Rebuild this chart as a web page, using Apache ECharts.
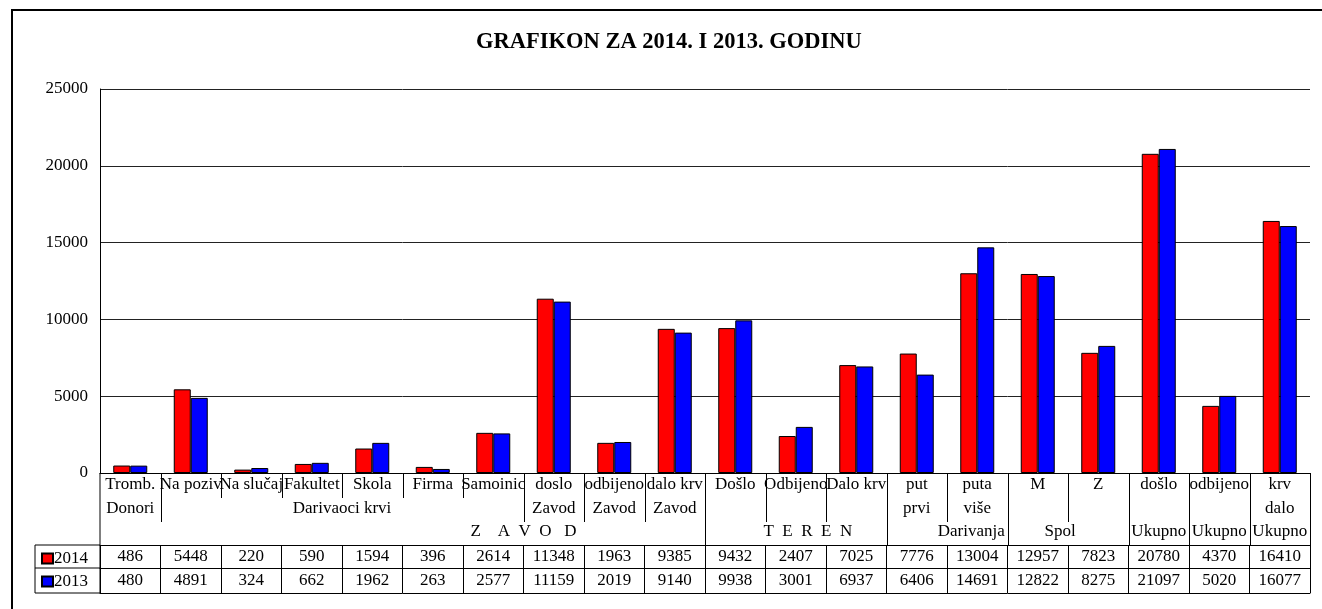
<!DOCTYPE html>
<html>
<head>
<meta charset="utf-8">
<script src="https://cdn.jsdelivr.net/npm/echarts@6/dist/echarts.min.js"></script>
<style>
html,body{margin:0;padding:0;background:#fff;}
#chart{width:1322px;height:609px;}
</style>
</head>
<body>
<div id="chart"></div>
<script>
// ---- data ----
const titleText = 'GRAFIKON ZA 2014. I 2013. GODINU';
const categories = ['Tromb.','Na poziv','Na slučaj','Fakultet','Skola','Firma','Samoinic','doslo','odbijeno','dalo krv','Došlo','Odbijeno','Dalo krv','put','puta','M','Z','došlo','odbijeno','krv'];
const labelLine2 = ['Donori','','','','','','','Zavod','Zavod','Zavod','','','','prvi','više','','','','','dalo'];
const labelLine3 = ['','','','','','','','','','','','','','','','','','Ukupno','Ukupno','Ukupno'];
const seriesNames = ['2014','2013'];
const values2014 = [486,5448,220,590,1594,396,2614,11348,1963,9385,9432,2407,7025,7776,13004,12957,7823,20780,4370,16410];
const values2013 = [480,4891,324,662,1962,263,2577,11159,2019,9140,9938,3001,6937,6406,14691,12822,8275,21097,5020,16077];
const groupTexts = ['Darivaoci krvi','Z    A  V  O   D','T  E  R  E  N','Darivanja','Spol'];
const groupAt = [4, 7, 11.7, 14.4, 15.87];
const groupRow = [2, 3, 3, 3, 3];
// separator depth at boundaries 1..20 (1 short, 2 medium, 3 full)
const sepLevel = [2,1,1,1,1,1,2,2,2,3,2,2,3,2,3,2,3,3,3,3];
const yTicks = {min:0, max:25000, interval:5000};

const FONT = 'Liberation Serif';
const chart = echarts.init(document.getElementById('chart'));

const txt = {fontFamily: FONT, fontSize: 17, color: '#000'};

chart.setOption({
  animation: false,
  backgroundColor: '#fff',
  title: {
    text: titleText, left: 471, top: 26,
    textStyle: {fontFamily: FONT, fontSize: 22.5, fontWeight: 'bold', color: '#000'}
  },
  legend: {
    orient: 'vertical', left: 41, top: 550, padding: 0, itemWidth: 11, itemHeight: 10, itemGap: 6,
    icon: 'rect', selectedMode: false,
    textStyle: Object.assign({lineHeight: 17, padding: [0,0,0,-4]}, txt),
    data: seriesNames
  },
  grid: {left: 100, right: 12, top: 89, bottom: 136, containLabel: false},
  yAxis: {
    type: 'value', min: yTicks.min, max: yTicks.max, interval: yTicks.interval,
    axisLine: {show: true, lineStyle: {color: '#000', width: 1}},
    axisTick: {show: false},
    axisLabel: Object.assign({margin: 12, formatter: v => String(v)}, txt),
    splitLine: {show: true, lineStyle: {color: '#222', width: 1}}
  },
  xAxis: [
    {
      type: 'category', data: categories, position: 'bottom',
      axisLine: {show: true, lineStyle: {color: '#000'}},
      axisTick: {show: false},
      axisLabel: Object.assign({interval: 0, margin: 0, lineHeight: 23.5, hideOverlap: false,
        formatter: (v, i) => categories[i] + '\n' + (labelLine2[i] || ' ') + '\n' + (labelLine3[i] || ' ')}, txt)
    },
    {
      type: 'category', data: categories, position: 'bottom', offset: 72,
      axisLine: {show: true, lineStyle: {color: '#000'}},
      axisTick: {show: true, length: 48, lineStyle: {color: '#000'}},
      axisLabel: Object.assign({interval: 0, margin: 0, lineHeight: 23, hideOverlap: false,
        formatter: (v, i) => String(values2014[i])}, txt)
    },
    {
      type: 'category', data: categories, position: 'bottom', offset: 95,
      axisLine: {show: true, lineStyle: {color: '#000'}},
      axisTick: {show: false},
      axisLabel: Object.assign({interval: 0, margin: 0, lineHeight: 25, hideOverlap: false,
        formatter: (v, i) => String(values2013[i])}, txt)
    },
    {
      type: 'category', data: categories, position: 'bottom', offset: 120,
      axisLine: {show: true, lineStyle: {color: '#000'}},
      axisTick: {show: false},
      axisLabel: {show: false}
    }
  ],
  series: [
    {
      name: seriesNames[0], type: 'bar', xAxisIndex: 0, data: values2014,
      barWidth: 17, barGap: '0%',
      itemStyle: {color: '#ff0000', borderColor: '#000', borderWidth: 1}
    },
    {
      name: seriesNames[1], type: 'bar', xAxisIndex: 0, data: values2013,
      barWidth: 17, barGap: '0%',
      itemStyle: {color: '#0000ff', borderColor: '#000', borderWidth: 1}
    }
  ]
});

// positions derived from axes
const c0 = chart.convertToPixel({xAxisIndex: 0}, 0);
const c1 = chart.convertToPixel({xAxisIndex: 0}, 1);
const band = c1 - c0;
const x0 = c0 - band / 2;
const yZero = chart.convertToPixel({yAxisIndex: 0}, 0);
const tableTop = yZero + 72, row2 = yZero + 95, tableBottom = yZero + 120;
const tableLeft = 35;
const sepLen = {1: 25, 2: 49, 3: 72};

const graphics = [];
const line = (xa, ya, xb, yb, w) => graphics.push({
  type: 'line', silent: true, z: 100,
  shape: {x1: xa, y1: ya, x2: xb, y2: yb},
  style: {stroke: '#000', lineWidth: w || 1}
});
// outer frame
graphics.push({type: 'rect', silent: true, z: 100,
  shape: {x: 12, y: 10, width: 1330, height: 620},
  style: {fill: 'none', stroke: '#000', lineWidth: 2}});
// left header cells
line(tableLeft, tableTop, x0, tableTop);
line(tableLeft, row2, x0, row2);
line(tableLeft, tableBottom, x0, tableBottom);
line(tableLeft, tableTop, tableLeft, tableBottom);
line(x0, yZero, x0, tableBottom);
// separators in the label area
sepLevel.forEach((lv, k) => {
  const x = Math.round(x0 + (k + 1) * band) + 0.5;
  line(x, yZero, x, yZero + sepLen[lv]);
});
// group labels
groupTexts.forEach((t, i) => {
  graphics.push({
    type: 'text', silent: true, z: 100,
    x: x0 + groupAt[i] * band,
    y: yZero + 11.75 + (groupRow[i] - 1) * 23.5,
    style: {text: t, fontFamily: FONT, fontSize: 17, fill: '#000', align: 'center', verticalAlign: 'middle'}
  });
});
chart.setOption({graphic: graphics});
</script>
</body>
</html>
